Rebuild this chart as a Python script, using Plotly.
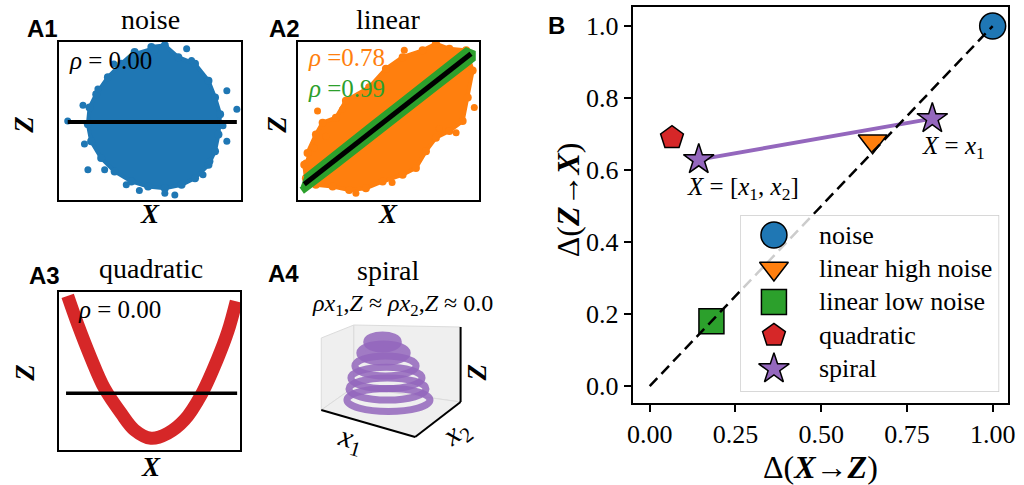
import plotly.graph_objects as go

W, H = 1024, 485
def px(x): return x / W
def py(y): return 1 - y / H

# ---------------- data ----------------
# A1 noise: dense core outline + outlying points (X, Z normalised to the panel box)
noise_core_x = [0.506, 0.580, 0.654, 0.746, 0.820, 0.856, 0.884, 0.875, 0.856, 0.820, 0.746, 0.672,
                0.580, 0.488, 0.396, 0.304, 0.230, 0.175, 0.157, 0.166, 0.203, 0.267, 0.341, 0.414]
noise_core_z = [0.968, 0.979, 0.904, 0.862, 0.755, 0.649, 0.543, 0.415, 0.309, 0.223, 0.138, 0.096,
                0.074, 0.085, 0.117, 0.181, 0.266, 0.372, 0.479, 0.585, 0.670, 0.777, 0.862, 0.936]
noise_out_x = [0.046, 0.976, 0.921, 0.921, 0.157, 0.700, 0.727, 0.580, 0.368, 0.635, 0.828, 0.138, 0.212,
               0.525, 0.249, 0.130, 0.900, 0.790, 0.300, 0.440]
noise_out_z = [0.500, 0.574, 0.691, 0.372, 0.191, 0.957, 0.883, 0.043, 0.096, 0.032, 0.245, 0.355, 0.702,
               0.947, 0.191, 0.600, 0.470, 0.160, 0.860, 0.060]
noise_fit_x = [0.046, 0.976]
noise_fit_z = [0.494, 0.494]

# A2 linear: high-noise cloud (orange), low-noise band (green), fit line
lin_hi_x = [0.055, 0.101, 0.138, 0.211, 0.266, 0.394, 0.486, 0.578, 0.688, 0.761, 0.835, 0.927, 0.963, 0.936,
            0.908, 0.835, 0.761, 0.706, 0.651, 0.578, 0.468, 0.376, 0.284, 0.193, 0.101, 0.046, 0.037]
lin_hi_z = [0.298, 0.415, 0.489, 0.521, 0.628, 0.713, 0.830, 0.904, 0.947, 0.989, 0.957, 0.947, 0.819, 0.649,
            0.500, 0.436, 0.394, 0.309, 0.202, 0.160, 0.117, 0.074, 0.064, 0.085, 0.096, 0.138, 0.223]
lin_hi_out_x = [0.110, 0.972, 0.587, 0.321, 0.872, 0.046, 0.156, 0.092, 0.780, 0.248, 0.060, 0.520]
lin_hi_out_z = [0.564, 0.585, 0.947, 0.043, 0.426, 0.234, 0.404, 0.330, 0.453, 0.574, 0.200, 0.110]
lin_lo_x = [0.037, 0.220, 0.404, 0.587, 0.771, 0.927, 0.972, 0.972, 0.771, 0.587, 0.404, 0.220, 0.037, 0.018]
lin_lo_z = [0.149, 0.319, 0.485, 0.649, 0.815, 0.957, 0.936, 0.887, 0.709, 0.543, 0.379, 0.213, 0.053, 0.085]
lin_fit_x = [0.037, 0.954]
lin_fit_z = [0.100, 0.926]

# A3 quadratic
quad_x = [0.046, 0.101, 0.175, 0.249, 0.341, 0.415, 0.507, 0.600, 0.692, 0.784, 0.876, 0.932, 0.978]
quad_z = [0.975, 0.797, 0.581, 0.391, 0.233, 0.127, 0.074, 0.106, 0.190, 0.349, 0.581, 0.751, 0.941]
quad_fit_x = [0.037, 0.983]
quad_fit_z = [0.359, 0.359]

# A4 spiral: turns of the conical helix (projected centre, height, radii)
ring_cx = [82, 83, 85, 86, 87, 88]
ring_h = [108, 97, 84, 72, 61, 50]
ring_rx = [16, 24, 31, 36, 39, 42]
ring_ry = [7.0, 9.0, 10.0, 10.7, 11.0, 11.5]

# B: Delta(X->Z) vs Delta(Z->X)
b_names = ["noise", "linear high noise", "linear low noise", "quadratic", "spiral"]
b_x = [1.00, 0.65, 0.18, 0.065]
b_y = [1.00, 0.68, 0.18, 0.69]
spiral_x = [0.143, 0.824]
spiral_y = [0.629, 0.743]
diag = [0.0, 1.0]
b_xticks = [0.0, 0.25, 0.5, 0.75, 1.0]
b_yticks = [0.0, 0.2, 0.4, 0.6, 0.8, 1.0]

# ---------------- styles ----------------
BLUE, ORANGE, GREEN, RED, PURPLE = "#1f77b4", "#ff7f0e", "#2ca02c", "#d62728", "#9467bd"
SERIF = "Liberation Serif"
SANS = "Liberation Sans"
symbols = ["circle", "triangle-down", "square", "pentagon", "star"]
colors = [BLUE, ORANGE, GREEN, RED, PURPLE]
msizes = [26, 25, 25, 24, 23]

fig = go.Figure()

# A1
fig.add_trace(go.Scatter(x=noise_core_x, y=noise_core_z, mode="lines+markers", fill="toself",
                         fillcolor=BLUE, line=dict(color=BLUE, width=4), marker=dict(size=8, color=BLUE),
                         xaxis="x", yaxis="y", hoverinfo="skip"))
fig.add_trace(go.Scatter(x=noise_out_x, y=noise_out_z, mode="markers", marker=dict(size=7, color=BLUE),
                         xaxis="x", yaxis="y"))
fig.add_trace(go.Scatter(x=noise_fit_x, y=noise_fit_z, mode="lines", line=dict(color="black", width=4),
                         xaxis="x", yaxis="y"))

# A2
fig.add_trace(go.Scatter(x=lin_hi_x, y=lin_hi_z, mode="lines+markers", fill="toself", fillcolor=ORANGE,
                         line=dict(color=ORANGE, width=4), marker=dict(size=8, color=ORANGE), xaxis="x2", yaxis="y2"))
fig.add_trace(go.Scatter(x=lin_hi_out_x, y=lin_hi_out_z, mode="markers", marker=dict(size=7, color=ORANGE),
                         xaxis="x2", yaxis="y2"))
fig.add_trace(go.Scatter(x=lin_lo_x, y=lin_lo_z, mode="lines", fill="toself", fillcolor=GREEN,
                         line=dict(color=GREEN, width=3), xaxis="x2", yaxis="y2"))
fig.add_trace(go.Scatter(x=lin_fit_x, y=lin_fit_z, mode="lines", line=dict(color="black", width=5),
                         xaxis="x2", yaxis="y2"))

# A3
fig.add_trace(go.Scatter(x=quad_x, y=quad_z, mode="lines", line=dict(color=RED, width=13, shape="spline"),
                         xaxis="x3", yaxis="y3"))
fig.add_trace(go.Scatter(x=quad_fit_x, y=quad_fit_z, mode="lines", line=dict(color="black", width=3.5),
                         xaxis="x3", yaxis="y3"))

# A4 placeholder trace so the axes exist
fig.add_trace(go.Scatter(x=[0, 180], y=[0, 150], mode="markers", marker=dict(size=1, opacity=0),
                         xaxis="x4", yaxis="y4", hoverinfo="skip"))

# B
fig.add_trace(go.Scatter(x=spiral_x, y=spiral_y, mode="lines", line=dict(color=PURPLE, width=4),
                         xaxis="x5", yaxis="y5"))
for i in range(4):
    fig.add_trace(go.Scatter(x=[b_x[i]], y=[b_y[i]], mode="markers", xaxis="x5", yaxis="y5",
                             marker=dict(symbol=symbols[i], size=msizes[i], color=colors[i],
                                         line=dict(color="black", width=1.5))))
fig.add_trace(go.Scatter(x=spiral_x, y=spiral_y, mode="markers", xaxis="x5", yaxis="y5",
                         marker=dict(symbol="star", size=msizes[4], color=PURPLE,
                                     line=dict(color="black", width=1.5))))
fig.add_trace(go.Scatter(x=diag, y=diag, mode="lines", line=dict(color="black", width=2.5, dash="11px,6px"),
                         xaxis="x5", yaxis="y5"))

# legend (drawn manually in its own axes over panel B)
fig.add_trace(go.Scatter(x=[0, 1, 1, 0, 0], y=[0, 0, 1, 1, 0], mode="lines", fill="toself",
                         fillcolor="rgba(255,255,255,0.8)", line=dict(color="#cccccc", width=1.5),
                         xaxis="x6", yaxis="y6", hoverinfo="skip"))
leg_y = [0.887 - i * 0.189 for i in range(5)]
for i in range(5):
    fig.add_trace(go.Scatter(x=[0.13], y=[leg_y[i]], mode="markers", xaxis="x6", yaxis="y6",
                             marker=dict(symbol=symbols[i], size=msizes[i], color=colors[i],
                                         line=dict(color="black", width=1.5))))

def box_axis(dom_x, dom_y):
    ax = dict(showgrid=False, zeroline=False, showticklabels=False, ticks="",
              showline=True, mirror=True, linecolor="black", linewidth=1.5, range=[0, 1], fixedrange=True)
    return dict(ax, domain=dom_x), dict(ax, domain=dom_y)

a1x, a1y = box_axis([px(55), px(239)], [py(200), py(42)])
a2x, a2y = box_axis([px(296), px(480)], [py(200), py(42)])
a3x, a3y = box_axis([px(55), px(238)], [py(450), py(292)])

tickfont = dict(size=26, family=SERIF, color="black")
layout = dict(
    width=W, height=H, margin=dict(l=0, r=0, t=0, b=0), showlegend=False,
    paper_bgcolor="white", plot_bgcolor="rgba(0,0,0,0)",
    font=dict(family=SERIF, color="black", size=24),
    xaxis=a1x, yaxis=dict(a1y, anchor="x"),
    xaxis2=dict(a2x, anchor="y2"), yaxis2=dict(a2y, anchor="x2"),
    xaxis3=dict(a3x, anchor="y3"), yaxis3=dict(a3y, anchor="x3"),
    xaxis4=dict(domain=[px(300), px(480)], range=[0, 180], visible=False, anchor="y4", fixedrange=True),
    yaxis4=dict(domain=[py(450), py(300)], range=[0, 150], visible=False, anchor="x4", fixedrange=True),
    xaxis5=dict(domain=[px(635), px(1015)], range=[-0.05, 1.045], anchor="y5", tickvals=b_xticks,
                tickformat=".2f", ticks="outside", ticklen=7, tickwidth=1.5, tickcolor="black",
                showline=True, mirror=True, linecolor="black", linewidth=1.5, showgrid=False, zeroline=False,
                tickfont=tickfont, fixedrange=True),
    yaxis5=dict(domain=[py(403), py(7)], range=[-0.047, 1.053], anchor="x5", tickvals=b_yticks,
                tickformat=".1f", ticks="outside", ticklen=7, tickwidth=1.5, tickcolor="black",
                showline=True, mirror=True, linecolor="black", linewidth=1.5, showgrid=False, zeroline=False,
                tickfont=tickfont, fixedrange=True),
    xaxis6=dict(domain=[px(744), px(1006)], range=[0, 1], visible=False, anchor="y6", fixedrange=True),
    yaxis6=dict(domain=[py(392), py(215)], range=[0, 1], visible=False, anchor="x6", fixedrange=True),
)

# A4 3D box as shapes
P = dict(LT=(20, 112), LB=(20, 40), BT=(53, 125), BB=(53, 63), RT=(161, 123), RB=(161, 48), FB=(115, 13))
def path(*keys):
    return "M " + " L ".join(f"{P[k][0]},{P[k][1]}" for k in keys) + " Z"
shapes = []
for keys in [("LT", "BT", "BB", "LB"), ("BT", "RT", "RB", "BB"), ("LB", "BB", "RB", "FB")]:
    shapes.append(dict(type="path", path=path(*keys), xref="x4", yref="y4", fillcolor="#efefef",
                       line=dict(color="#dcdcdc", width=1), layer="below"))
for a, b in [("LB", "FB"), ("FB", "RB"), ("RB", "RT")]:
    shapes.append(dict(type="line", x0=P[a][0], y0=P[a][1], x1=P[b][0], y1=P[b][1], xref="x4", yref="y4",
                       line=dict(color="black", width=2)))
for i in range(len(ring_h)):
    shapes.append(dict(type="circle", xref="x4", yref="y4",
                       x0=ring_cx[i] - ring_rx[i], x1=ring_cx[i] + ring_rx[i],
                       y0=ring_h[i] - ring_ry[i], y1=ring_h[i] + ring_ry[i],
                       line=dict(color=PURPLE, width=7),
                       fillcolor=PURPLE if i < 2 else "rgba(0,0,0,0)", opacity=0.85))
layout["shapes"] = shapes

ann = []
def T(x, y, text, size=24, font=SERIF, color="black", xanchor="center", angle=0, xref="paper", yref="paper"):
    if xref == "paper":
        x, y = px(x), py(y)
    ann.append(dict(x=x, y=y, xref=xref, yref=yref, text=text, showarrow=False, xanchor=xanchor,
                    yanchor="middle", textangle=angle, font=dict(family=font, size=size, color=color)))

BX = "<b><i>X</i></b>"
BZ = "<b><i>Z</i></b>"
# panel letters
for (x, y, t) in [(38, 28, "A1"), (283, 28, "A2"), (40, 275, "A3"), (282, 273, "A4"), (558, 25, "B")]:
    T(x, y, f"<b>{t}</b>", size=24, font=SANS)
# titles
T(147, 20, "noise", size=28)
T(388, 20, "linear", size=28)
T(148, 268, "quadratic", size=28)
T(388, 270, "spiral", size=28)
T(402, 305, "<i>ρx</i><sub>1</sub>,<i>Z</i> ≈ <i>ρx</i><sub>2</sub>,<i>Z</i> ≈ 0.0", size=24)
# rho texts
T(63, 60, "<i>ρ</i> = 0.00", size=25, xanchor="left")
T(305, 57, "<i>ρ</i> =0.78", size=25, color=ORANGE, xanchor="left")
T(305, 88, "<i>ρ</i> =0.99", size=25, color=GREEN, xanchor="left")
T(72, 309, "<i>ρ</i> = 0.00", size=25, xanchor="left")
# axis labels A
for (x, y) in [(147, 214), (388, 214), (148, 467)]:
    T(x, y, BX, size=27)
for (x, y) in [(19, 125), (275, 125), (20, 373), (478, 372)]:
    T(x, y, BZ, size=27, angle=-90)
T(350, 440, "<i>x</i><sub>1</sub>", size=30, angle=16)
T(457, 433, "<i>x</i><sub>2</sub>", size=30, angle=-37)
# B axis titles
T(570, 200, f"Δ({BZ}→{BX})", size=32, angle=-90)
T(825, 467, f"Δ({BX}→{BZ})", size=32)
# B annotations
T(0.271, 0.549, "<i>X</i> = [<i>x</i><sub>1</sub>, <i>x</i><sub>2</sub>]", size=25, xref="x5", yref="y5")
T(0.885, 0.663, "<i>X</i> = <i>x</i><sub>1</sub>", size=25, xref="x5", yref="y5")
# legend labels
for i in range(5):
    T(0.298, leg_y[i], b_names[i], size=26, xanchor="left", xref="x6", yref="y6")
layout["annotations"] = ann

fig.update_layout(**layout)
fig.write_html("out.html")
